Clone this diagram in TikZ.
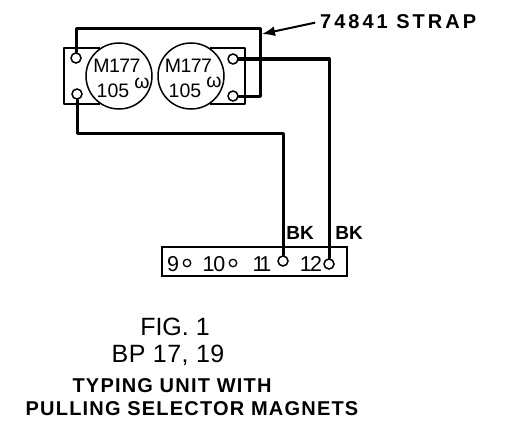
\documentclass[tikz,border=0pt]{standalone}
\usepackage{fontspec}
\usetikzlibrary{arrows.meta}
\setmainfont{Liberation Sans}
\begin{document}
\begin{tikzpicture}[x=1pt,y=-1pt,
  wire/.style={line width=3pt,line join=round,line cap=round},
  plate/.style={line width=1.5pt,line join=round},
  coil/.style={circle,draw,line width=1.5pt,fill=white,minimum size=66pt,inner sep=0pt},
  term/.style={circle,draw,line width=1.5pt,fill=white,minimum size=10pt,inner sep=0pt},
  dot/.style={circle,draw,line width=1.3pt,fill=white,minimum size=7.5pt,inner sep=0pt},
  lab/.style={inner sep=0pt,anchor=base,font=\fontsize{20}{20}\selectfont\bfseries},
  coillab/.style={inner sep=0pt,anchor=base,font=\fontsize{19.5}{20}\selectfont},
  numlab/.style={inner sep=0pt,anchor=base,font=\fontsize{21.5}{22}\selectfont},
  figcap/.style={inner sep=0pt,anchor=base,font=\fontsize{25}{25}\selectfont}]
\useasboundingbox (0,0) rectangle (524,436);
% plates
\draw[plate] (100,48) -- (64,48) -- (64,104) -- (100,104);
\draw[plate] (210,48) -- (245,48) -- (245,104) -- (210,104);
% coils
\node[coil] (c1) at (119,76) {};
\node[coil] (c2) at (191,76) {};
\node[coillab] (m1) at (117,72) {\addfontfeature{LetterSpace=-3}M177};
\node[coillab] (r1) at (113,97) {105};
\node[coillab] (w1) at (142,88) {ω};
\node[coillab] (m2) at (188.5,72) {\addfontfeature{LetterSpace=-3}M177};
\node[coillab] (r2) at (185,97) {105};
\node[coillab] (w2) at (214,87) {ω};
% block
\node[draw,line width=1.5pt,minimum width=185pt,minimum height=29pt,inner sep=0pt] (blk) at (254.5,261.5) {};
% terminals
\node[term] (a) at (76,58) {};
\node[term] (b) at (77,94) {};
\node[term] (d) at (233,59) {};
\node[term] (e) at (233,96) {};
\node[term] (t11) at (283,261) {};
\node[term] (t12) at (329,264) {};
% wires
\coordinate (s1) at (76,29);
\coordinate (s2) at (260,29);
\coordinate (s3) at (260,96);
\draw[wire] (a) -- (s1) -- (s2) -- (s3) -- (e);
\coordinate (p1) at (77,133);
\coordinate (p2) at (283,133);
\draw[wire] (b) -- (p1) -- (p2) -- (t11);
\coordinate (q1) at (329,59);
\draw[wire] (d) -- (q1) -- (t12);
% strap label
\node[lab,anchor=base west] (strap) at (320,28.5) {\addfontfeature{LetterSpace=15}74841 STRAP};
\coordinate (tip) at (262,34);
\draw[line width=2pt,shorten <=5pt,-{Latex[length=13pt,width=10pt]}] (strap.west) -- (tip);
% block text
\node[numlab] (n9) at (173,271) {9};
\node[dot] (o9) at (187,263) {};
\node[numlab] (n10) at (214,271) {\addfontfeature{LetterSpace=-6}10};
\node[dot] (o10) at (233,263) {};
\node[numlab] (n11) at (262,271) {\addfontfeature{LetterSpace=-16}11};
\node[numlab] (n12) at (311,271) {\addfontfeature{LetterSpace=-8}12};
\node[lab,font=\fontsize{19}{19}\selectfont\bfseries] (bk1) at (300,239) {BK};
\node[lab,font=\fontsize{19}{19}\selectfont\bfseries] (bk2) at (349,239) {BK};
% caption
\node[figcap] (f1) at (175,335) {FIG. 1};
\node[figcap] (f2) at (168,362.5) {\addfontfeature{LetterSpace=2}BP 17, 19};
\node[lab] (f3) at (172,392) {\addfontfeature{LetterSpace=6}TYPING UNIT WITH};
\node[lab] (f4) at (192,415.5) {\addfontfeature{LetterSpace=6}PULLING SELECTOR MAGNETS};
\end{tikzpicture}
\end{document}
